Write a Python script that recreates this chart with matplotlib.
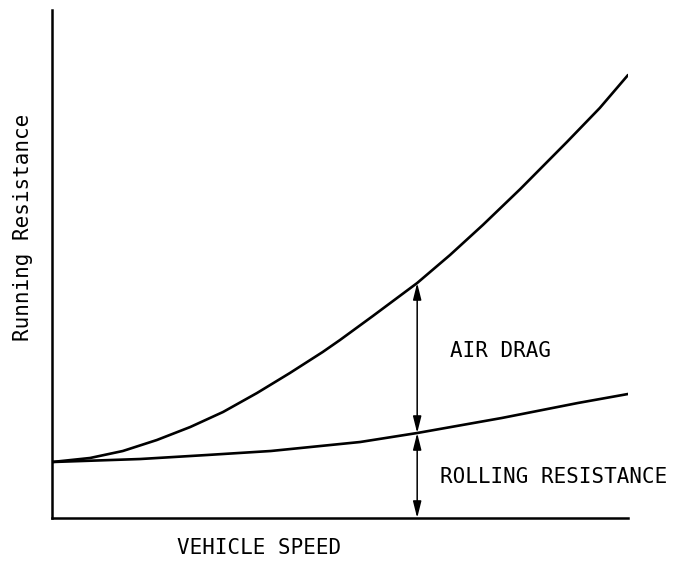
import numpy as np
import matplotlib
matplotlib.use("Agg")
import matplotlib.pyplot as plt

# values (speed and resistance in arbitrary 0-100 units)
speed_total = [0, 6.6, 12.3, 18.2, 24.0, 29.7, 35.6, 41.3, 47.0, 50.0, 55.7,
               63.4, 69.1, 74.8, 81.3, 89.4, 95.1, 100]
total_res = [11.02, 11.81, 13.19, 15.35, 17.91, 20.87, 24.61, 28.54, 32.68, 35.04,
             39.76, 46.26, 51.77, 57.68, 64.76, 74.02, 80.71, 87.2]

speed_roll = [0, 15.3, 26.9, 38.0, 53.5, 63.4, 78.1, 91.3, 100]
rolling_res = [11.02, 11.61, 12.40, 13.19, 14.96, 16.73, 19.69, 22.64, 24.41]

arrow_speed = 63.4
arrow_roll = 16.73
arrow_total = 46.26

plt.rcParams['font.family'] = ['DejaVu Sans Mono']

fig = plt.figure(figsize=(6.78, 5.62), dpi=100)
ax = fig.add_axes([52/678, 44/562, 576/678, 508/562])

ax.plot(speed_total, total_res, color='black', lw=1.9, solid_capstyle='round',
        solid_joinstyle='round')
ax.plot(speed_roll, rolling_res, color='black', lw=1.9, solid_capstyle='round',
        solid_joinstyle='round')

arr = dict(arrowstyle='<|-|>,head_length=1.0,head_width=0.25', color='black',
           lw=1.1, shrinkA=0, shrinkB=0)
ax.annotate('', xy=(arrow_speed, 0), xytext=(arrow_speed, arrow_roll), arrowprops=arr)
ax.annotate('', xy=(arrow_speed, arrow_roll), xytext=(arrow_speed, arrow_total), arrowprops=arr)

fs = 15
ax.text(69.1, 32.9, 'AIR DRAG', fontsize=fs, ha='left', va='center')
ax.text(67.4, 8.1, 'ROLLING RESISTANCE', fontsize=fs, ha='left', va='center', clip_on=False)
ax.text(35.9, -5.9, 'VEHICLE SPEED', fontsize=fs, ha='center', va='center', clip_on=False)
ax.text(-5.0, 57.3, 'Running Resistance', fontsize=fs, ha='center', va='center',
        rotation=90, clip_on=False)

ax.set_xlim(0, 100)
ax.set_ylim(0, 100)
ax.spines['top'].set_visible(False)
ax.spines['right'].set_visible(False)
ax.spines['left'].set_linewidth(1.8)
ax.spines['bottom'].set_linewidth(1.8)
ax.set_xticks([])
ax.set_yticks([])

fig.savefig('out.png', dpi=100)
